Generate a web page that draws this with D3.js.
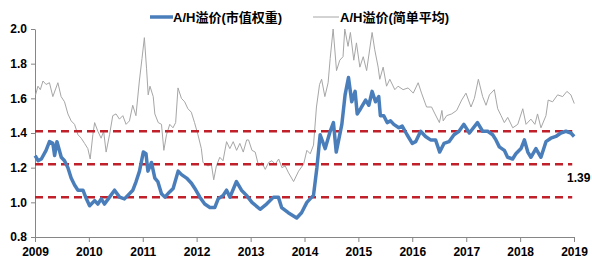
<!DOCTYPE html>
<html>
<head>
<meta charset="utf-8">
<script src="https://cdn.jsdelivr.net/npm/d3@7"></script>
<style>
  body { margin: 0; background: #fff; }
  svg text { font-family: "Liberation Sans", Arial, "Noto Sans CJK SC", sans-serif; font-weight: bold; }
</style>
</head>
<body>
<div id="chart"></div>
<script>
var width = 592,
    height = 267,
    margin = {top: 29, right: 18, bottom: 30, left: 35};

// A/H溢价(市值权重)
var blueDates = ["2009-01-02","2009-01-22","2009-02-13","2009-03-17","2009-04-09","2009-05-02","2009-05-14","2009-05-30","2009-06-28","2009-07-20",
  "2009-08-12","2009-09-03","2009-09-26","2009-10-19","2009-11-22","2009-12-15","2010-01-06","2010-02-09","2010-03-03","2010-03-26",
  "2010-04-17","2010-05-21","2010-06-24","2010-07-28","2010-08-30","2010-09-22","2010-10-26","2010-11-17","2010-12-10","2011-01-05",
  "2011-01-23","2011-02-05","2011-03-01","2011-03-24","2011-04-13","2011-05-08","2011-05-31","2011-07-02","2011-07-26","2011-08-29",
  "2011-09-21","2011-10-25","2011-11-27","2011-12-20","2012-01-23","2012-02-25","2012-03-31","2012-05-03","2012-05-26","2012-06-29",
  "2012-07-22","2012-08-14","2012-09-27","2012-10-31","2012-12-04","2013-01-10","2013-03-06","2013-04-19","2013-06-05","2013-07-08",
  "2013-07-30","2013-09-13","2013-11-09","2013-12-12","2014-01-17","2014-02-08","2014-03-03","2014-03-26","2014-04-17","2014-05-21",
  "2014-06-24","2014-07-16","2014-08-04","2014-09-11","2014-10-03","2014-10-26","2014-11-17","2014-12-10","2014-12-24","2015-01-16",
  "2015-02-19","2015-03-13","2015-04-04","2015-04-27","2015-05-19","2015-05-30","2015-06-22","2015-07-15","2015-08-07","2015-08-29",
  "2015-10-02","2015-10-25","2015-11-27","2016-01-01","2016-01-24","2016-02-27","2016-03-31","2016-05-04","2016-06-07","2016-07-05",
  "2016-08-03","2016-09-06","2016-10-10","2016-11-13","2016-12-16","2017-01-22","2017-03-18","2017-04-22","2017-05-26","2017-06-29",
  "2017-07-21","2017-08-13","2017-09-16","2017-10-08","2017-11-11","2017-12-03","2018-01-07","2018-01-30","2018-02-22","2018-03-15",
  "2018-04-18","2018-05-22","2018-06-25","2018-07-28","2018-08-31","2018-10-04","2018-11-07","2018-12-11","2019-01-02"];
var blueValues = [1.27,1.24,1.25,1.30,1.35,1.34,1.27,1.35,1.26,1.24,
  1.20,1.14,1.10,1.07,1.07,1.02,0.98,1.01,0.99,1.02,
  0.99,1.03,1.07,1.03,1.02,1.04,1.07,1.12,1.18,1.29,
  1.28,1.18,1.23,1.14,1.12,1.05,1.03,1.06,1.08,1.18,
  1.16,1.14,1.11,1.08,1.03,0.99,0.97,0.97,1.02,1.04,
  1.07,1.03,1.12,1.07,1.04,1.00,0.96,0.99,1.03,1.03,
  0.97,0.94,0.91,0.94,1.00,1.02,1.04,1.20,1.39,1.31,
  1.41,1.46,1.29,1.45,1.62,1.72,1.58,1.64,1.51,1.54,
  1.59,1.56,1.64,1.58,1.61,1.50,1.50,1.46,1.47,1.45,
  1.43,1.44,1.39,1.34,1.35,1.41,1.38,1.36,1.36,1.29,
  1.34,1.35,1.39,1.41,1.45,1.40,1.46,1.41,1.41,1.39,
  1.36,1.32,1.30,1.26,1.25,1.28,1.31,1.36,1.29,1.26,
  1.31,1.26,1.35,1.37,1.38,1.40,1.41,1.40,1.38];

// A/H溢价(简单平均)
var grayDates = ["2009-01-05","2009-01-21","2009-02-06","2009-02-24","2009-03-17","2009-04-09","2009-05-02","2009-06-05","2009-06-27","2009-07-20",
  "2009-08-12","2009-09-03","2009-09-26","2009-10-19","2009-11-10","2009-12-03","2009-12-25","2010-01-10","2010-01-28","2010-02-09",
  "2010-03-03","2010-03-25","2010-04-11","2010-04-28","2010-05-21","2010-06-12","2010-07-04","2010-07-27","2010-08-19","2010-09-10",
  "2010-10-03","2010-10-25","2010-11-16","2010-12-09","2010-12-27","2011-01-12","2011-01-27","2011-02-07","2011-02-19","2011-03-13",
  "2011-03-24","2011-04-16","2011-05-08","2011-05-24","2011-06-11","2011-07-03","2011-07-25","2011-08-12","2011-08-28","2011-09-20",
  "2011-10-12","2011-11-03","2011-11-26","2011-12-18","2012-01-10","2012-02-02","2012-02-13","2012-03-18","2012-04-10","2012-04-26",
  "2012-05-14","2012-06-06","2012-06-28","2012-07-22","2012-08-13","2012-09-05","2012-09-28","2012-10-20","2012-11-12","2012-12-05",
  "2012-12-18","2013-01-10","2013-02-01","2013-02-24","2013-03-18","2013-04-10","2013-05-03","2013-05-25","2013-06-17","2013-07-10",
  "2013-08-01","2013-08-23","2013-09-15","2013-10-19","2013-11-22","2013-12-26","2014-01-17","2014-02-09","2014-03-03","2014-03-23",
  "2014-04-13","2014-04-27","2014-05-19","2014-06-10","2014-06-24","2014-07-14","2014-08-06","2014-08-28","2014-09-19","2014-10-01",
  "2014-10-23","2014-11-08","2014-12-01","2014-12-19","2015-01-11","2015-02-03","2015-02-26","2015-04-04","2015-04-22","2015-05-15",
  "2015-05-26","2015-06-18","2015-07-11","2015-08-02","2015-09-05","2015-09-27","2015-10-31","2015-12-04","2016-01-08","2016-02-10",
  "2016-03-04","2016-04-07","2016-05-11","2016-06-03","2016-07-03","2016-07-20","2016-07-29","2016-08-21","2016-09-24","2016-10-28",
  "2016-12-01","2016-12-30","2017-02-02","2017-02-25","2017-03-24","2017-04-22","2017-05-15","2017-06-07","2017-07-10","2017-08-02",
  "2017-08-25","2017-09-16","2017-10-09","2017-11-12","2017-12-16","2018-01-19","2018-02-10","2018-03-15","2018-04-11","2018-04-29",
  "2018-05-22","2018-06-25","2018-07-10","2018-08-09","2018-09-12","2018-10-16","2018-11-14","2018-12-11","2019-01-03"];
var grayValues = [1.62,1.67,1.65,1.70,1.68,1.69,1.61,1.69,1.61,1.58,
  1.51,1.47,1.45,1.39,1.37,1.34,1.31,1.25,1.39,1.46,
  1.41,1.37,1.41,1.29,1.39,1.50,1.51,1.48,1.50,1.45,
  1.47,1.56,1.50,1.70,1.83,1.95,1.77,1.62,1.67,1.61,
  1.51,1.46,1.45,1.30,1.39,1.45,1.43,1.46,1.66,1.60,
  1.58,1.54,1.52,1.46,1.39,1.31,1.23,1.21,1.22,1.13,
  1.21,1.26,1.24,1.35,1.31,1.35,1.30,1.34,1.29,1.36,
  1.36,1.30,1.29,1.21,1.23,1.19,1.23,1.24,1.22,1.25,
  1.20,1.21,1.17,1.12,1.18,1.22,1.30,1.28,1.33,1.55,
  1.68,1.71,1.61,1.69,1.83,2.00,1.76,1.82,1.84,2.00,
  1.90,1.98,1.82,1.92,1.78,1.84,1.76,1.98,1.88,1.78,
  1.71,1.78,1.67,1.71,1.65,1.67,1.65,1.66,1.63,1.69,
  1.63,1.55,1.55,1.51,1.46,1.53,1.47,1.50,1.51,1.53,
  1.59,1.63,1.55,1.60,1.71,1.61,1.56,1.62,1.65,1.54,
  1.50,1.46,1.49,1.43,1.45,1.54,1.45,1.48,1.45,1.51,
  1.43,1.50,1.59,1.58,1.62,1.61,1.64,1.62,1.57];

// 均值与正负一倍标准差
var refLines = [1.41, 1.22, 1.03];
var yTicks = [0.8, 1.0, 1.2, 1.4, 1.6, 1.8, 2.0];
var xTickYears = [2009, 2010, 2011, 2012, 2013, 2014, 2015, 2016, 2017, 2018, 2019];
var seriesNames = ["A/H溢价(市值权重)", "A/H溢价(简单平均)"];
var lastLabel = "1.39";

var parse = d3.timeParse("%Y-%m-%d");
var blue = blueDates.map((d, i) => ({date: parse(d), value: blueValues[i]}));
var gray = grayDates.map((d, i) => ({date: parse(d), value: grayValues[i]}));

var x = d3.scaleTime()
    .domain([new Date(2009, 0, 1), new Date(2019, 0, 1)])
    .range([margin.left, width - margin.right]);

var y = d3.scaleLinear()
    .domain([0.8, 2.0])
    .range([height - margin.bottom, margin.top]);

var svg = d3.select("#chart").append("svg")
    .attr("width", width)
    .attr("height", height);

// ejes
var yAxis = svg.append("g")
    .attr("transform", "translate(" + margin.left + ",0)")
    .call(d3.axisLeft(y).tickValues(yTicks).tickFormat(d3.format(".1f")).tickSize(4).tickSizeOuter(0));

var xAxis = svg.append("g")
    .attr("transform", "translate(0," + (height - margin.bottom) + ")")
    .call(d3.axisBottom(x).tickValues(xTickYears.map(yr => new Date(yr, 0, 1)))
      .tickFormat(d3.timeFormat("%Y")).tickSize(5).tickSizeOuter(0));

[yAxis, xAxis].forEach(function (g) {
  g.select(".domain").attr("stroke", "#868686");
  g.selectAll(".tick line").attr("stroke", "#868686");
  g.selectAll(".tick text").attr("fill", "#000").style("font-size", "12px").style("font-weight", "bold");
});
yAxis.selectAll(".tick text").attr("x", -8);
xAxis.selectAll(".tick text").attr("y", 10);

var line = d3.line()
    .x(d => x(d.date))
    .y(d => y(d.value));

svg.append("path")
    .datum(gray)
    .attr("d", line)
    .attr("fill", "none")
    .attr("stroke", "#a6a6a6")
    .attr("stroke-width", 1);

svg.selectAll(".ref")
    .data(refLines)
    .enter().append("line")
    .attr("class", "ref")
    .attr("x1", margin.left)
    .attr("x2", x(new Date(2018, 11, 20)))
    .attr("y1", d => y(d))
    .attr("y2", d => y(d))
    .attr("stroke", "#c0202a")
    .attr("stroke-width", 2.5)
    .attr("stroke-dasharray", "8,5");

svg.append("path")
    .datum(blue)
    .attr("d", line)
    .attr("fill", "none")
    .attr("stroke", "#4a7ebb")
    .attr("stroke-width", 3.5)
    .attr("stroke-linejoin", "round");

svg.append("text")
    .attr("x", 567)
    .attr("y", 182)
    .style("font-size", "12px")
    .text(lastLabel);

// leyenda
var legend = svg.append("g");
legend.append("line").attr("x1", 150).attr("x2", 173).attr("y1", 17).attr("y2", 17)
    .attr("stroke", "#4a7ebb").attr("stroke-width", 3.5);
legend.append("text").attr("x", 173).attr("y", 21.5).style("font-size", "13px").text(seriesNames[0]);
legend.append("line").attr("x1", 313).attr("x2", 339).attr("y1", 17).attr("y2", 17)
    .attr("stroke", "#a6a6a6").attr("stroke-width", 1);
legend.append("text").attr("x", 340).attr("y", 21.5).style("font-size", "13px").text(seriesNames[1]);
</script>
</body>
</html>
